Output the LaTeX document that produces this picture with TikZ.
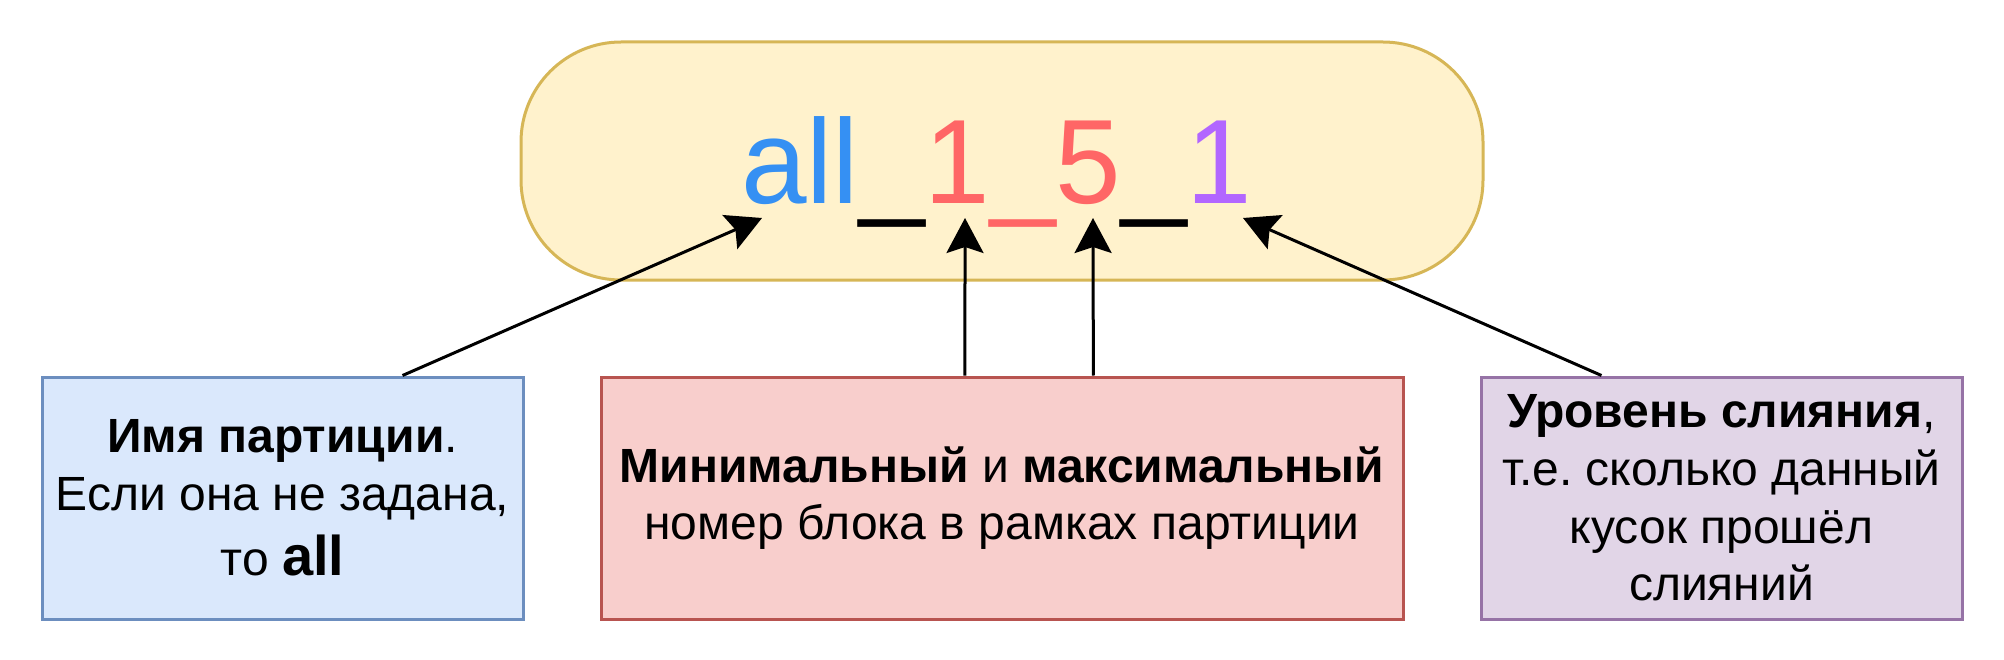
\documentclass[tikz,border=0pt]{standalone}
\usepackage{fontspec}
\usepackage{graphicx}
\setmainfont{Liberation Sans}
\usetikzlibrary{arrows.meta,calc}
\definecolor{yfill}{HTML}{FFF2CC}
\definecolor{ydraw}{HTML}{D6B656}
\definecolor{bfill}{HTML}{DAE8FC}
\definecolor{bdraw}{HTML}{6C8EBF}
\definecolor{rfill}{HTML}{F8CECC}
\definecolor{rdraw}{HTML}{B85450}
\definecolor{pfill}{HTML}{E1D5E7}
\definecolor{pdraw}{HTML}{9673A6}
\definecolor{allblue}{HTML}{3590F3}
\definecolor{numred}{HTML}{FF6666}
\definecolor{numpurple}{HTML}{B266FF}
\begin{document}
\frenchspacing
\begin{tikzpicture}[x=1pt,y=-1pt,
  infobox/.style={draw, line width=3pt, minimum width=481pt, minimum height=242pt,
    inner sep=0pt, align=center, font=\fontsize{48}{57.6}\selectfont},
  conn/.style={line width=3pt, -{Stealth[length=35pt,width=37pt,inset=6pt]}}]
\useasboundingbox (0,0) rectangle (2004,660);
% top rounded block
\node[draw=ydraw, fill=yfill, line width=3pt, rounded corners=100pt,
  minimum width=962pt, minimum height=238pt, inner sep=0pt] (main) at (1002,161) {};
\node[anchor=base west, inner sep=0pt, font=\fontsize{120}{144}\selectfont] (label) at (741,204)
  {\scalebox{0.982}[1]{\textcolor{allblue}{all}\_\textcolor{numred}{1\_5}\_\textcolor{numpurple}{1}}};
% bottom boxes
\node[infobox, draw=bdraw, fill=bfill] (blue) at (282.5,498)
  {\textbf{Имя партиции}.\\Если она не задана,\\[8pt]то {\fontsize{56}{67}\selectfont\bfseries all}};
\node[infobox, draw=rdraw, fill=rfill, minimum width=802pt] (red) at (1002,498)
  {\textbf{Минимальный} и \textbf{максимальный}\\номер блока в рамках партиции};
\node[infobox, draw=pdraw, fill=pfill] (purple) at (1721.5,498)
  {\textbf{Уровень слияния},\\т.е. сколько данный\\кусок прошёл\\слияний};
% arrow targets
\coordinate (tA) at (762,218);
\coordinate (tB) at (965,218);
\coordinate (tC) at (1093,218);
\coordinate (tD) at (1243,218);
\draw[conn] ($(blue.north west)!0.748!(blue.north east)$) -- (tA);
\draw[conn] ($(red.north west)!0.454!(red.north east)$) -- (tB);
\draw[conn] ($(red.north west)!0.6135!(red.north east)$) -- (tC);
\draw[conn] ($(purple.north west)!0.252!(purple.north east)$) -- (tD);
\end{tikzpicture}
\end{document}
